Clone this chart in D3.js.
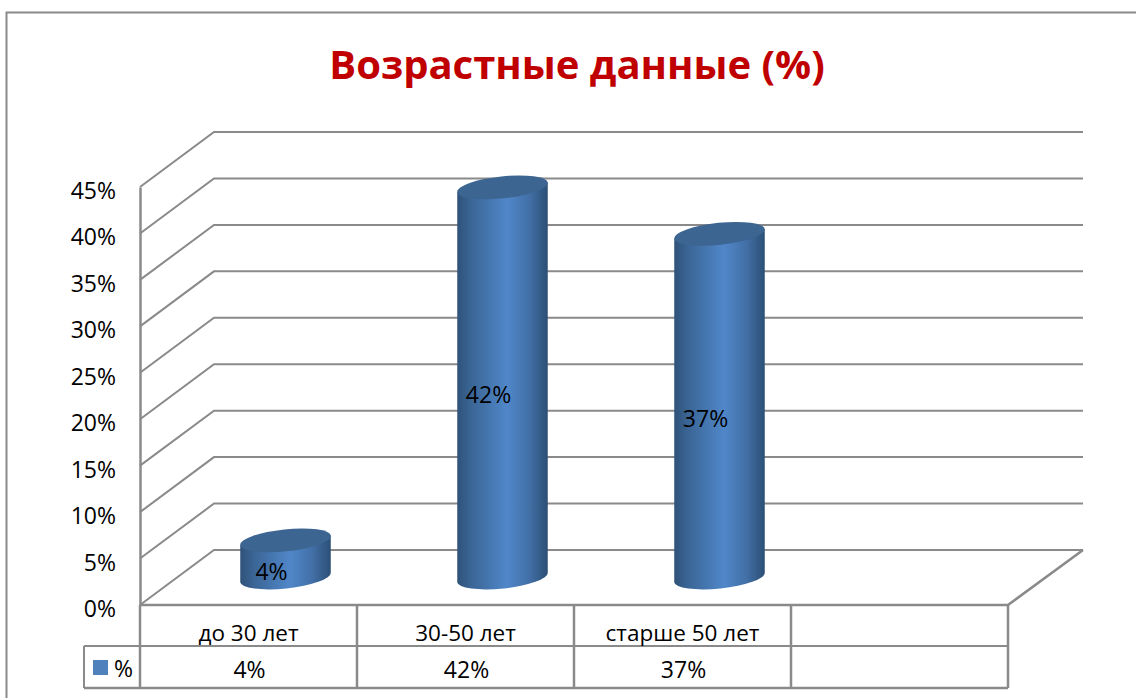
<!DOCTYPE html>
<html><head><meta charset="utf-8">
<script src="https://cdn.jsdelivr.net/npm/d3@7/dist/d3.min.js"></script>
<style>html,body{margin:0;padding:0;background:#fff;overflow:hidden}svg{display:block}text{font-family:"Open Sans","Noto Sans",sans-serif;fill:#000}</style>
</head><body>
<script>
const categories = ["до 30 лет", "30-50 лет", "старше 50 лет", ""];
const values = [4, 42, 37, null];
const valueLabels = ["4%", "42%", "37%", ""];
const ticks = [0, 5, 10, 15, 20, 25, 30, 35, 40, 45];
const seriesName = "%";
const titleText = "Возрастные данные (%)";

const W = 1136, H = 698, grid = "#8a8a8a";
const dx = 74, dy = -55;
const svg = d3.select("body").append("svg").attr("width", W).attr("height", H);
const y = d3.scaleLinear().domain([0, 45]).range([605, 187]);
const x = d3.scaleBand().domain(d3.range(categories.length)).range([140, 1008]);

const defs = svg.append("defs");
const g = defs.append("linearGradient").attr("id", "cyl");
[[0, "#2f5278"], [0.14, "#3a6494"], [0.55, "#5087c9"], [0.8, "#426fa6"], [1, "#2c4f75"]]
  .forEach(s => g.append("stop").attr("offset", s[0]).attr("stop-color", s[1]));

svg.append("path").attr("d", `M6.5 ${H}V12.5H${W}`).attr("fill", "none").attr("stroke", grid).attr("stroke-width", 2);

svg.append("text").attr("x", 577).attr("y", 79).attr("text-anchor", "middle")
  .style("fill", "#c00000").style("font-weight", 700).style("font-size", "40px").text(titleText);

// walls
const line = d3.line();
svg.append("g").selectAll("path").data(ticks).join("path")
  .attr("d", t => line([[140, y(t)], [140 + dx, y(t) + dy], [140 + dx + 869, y(t) + dy]]))
  .attr("fill", "none").attr("stroke", grid).attr("stroke-width", 2);
svg.append("path").attr("d", line([[140, y(0)], [1008, y(0)], [1008 + dx + 1, y(0) + dy]]))
  .attr("fill", "none").attr("stroke", grid).attr("stroke-width", 2.5);

// axis
const axis = svg.append("g").attr("transform", "translate(140,0)")
  .call(d3.axisLeft(y).tickValues(ticks).tickFormat(d => d + "%").tickSize(0).tickPadding(24));
axis.select(".domain").attr("stroke", grid).attr("stroke-width", 2.5);
axis.selectAll("text").style("font-size", "23px").attr("dy", "0.5em");

// cylinders
const rx = 45.5, ry = 11, tilt = -6;
const rad = tilt * Math.PI / 180;
const ex = rx * Math.cos(rad), ey = rx * Math.sin(rad);
const bars = svg.append("g").selectAll("g").data(values.map((v, i) => ({v, i})).filter(d => d.v != null)).join("g");
const cx = d => x(d.i) + x.bandwidth() / 2 + dx / 2;
const by = dy / 2;
bars.append("path").attr("fill", "url(#cyl)").attr("d", d => {
  const c = cx(d), t = y(d.v) + by, b = y(0) + by;
  return `M${c - ex} ${t - ey}L${c - ex} ${b - ey}A${rx} ${ry} ${tilt} 0 0 ${c + ex} ${b + ey}L${c + ex} ${t + ey}Z`;
});
bars.append("ellipse").attr("rx", rx).attr("ry", ry).attr("fill", "#3c6592")
  .attr("transform", d => `translate(${cx(d)},${y(d.v) + by}) rotate(${tilt})`);
bars.append("text").attr("x", d => x(d.i) + x.bandwidth() / 2 + dx / 2 - 14)
  .attr("y", d => (y(d.v) + y(0)) / 2 + by + 21)
  .attr("text-anchor", "middle").style("font-size", "23px").text(d => valueLabels[d.i]);

// data table
const tableBottom = 688, rowMid = 646;
const tbl = svg.append("g").attr("fill", "none").attr("stroke", grid);
x.domain().forEach(i => tbl.append("path").attr("stroke-width", 2.5)
  .attr("d", line([[x(i), 605], [x(i), tableBottom]])));
tbl.append("path").attr("stroke-width", 2.5).attr("d", line([[1008, 605], [1008, tableBottom]]));
tbl.append("path").attr("stroke-width", 2).attr("d", line([[84, rowMid], [1008, rowMid]]));
tbl.append("path").attr("stroke-width", 2.5).attr("d", line([[84, tableBottom], [1008, tableBottom]]));
tbl.append("path").attr("stroke-width", 2).attr("d", line([[84, rowMid], [84, tableBottom]]));

const mid = i => x(i) + x.bandwidth() / 2;
svg.append("g").selectAll("text").data(categories).join("text")
  .attr("x", (d, i) => mid(i)).attr("y", 641).attr("text-anchor", "middle").style("font-size", "22.5px").text(d => d);
svg.append("g").selectAll("text").data(valueLabels).join("text")
  .attr("x", (d, i) => mid(i) + 1).attr("y", 678).attr("text-anchor", "middle").style("font-size", "23px").text(d => d);
svg.append("rect").attr("x", 93).attr("y", 660).attr("width", 15).attr("height", 15).attr("fill", "#4f81bd");
svg.append("text").attr("x", 114).attr("y", 677).style("font-size", "23px").text(seriesName);
</script>
</body></html>
